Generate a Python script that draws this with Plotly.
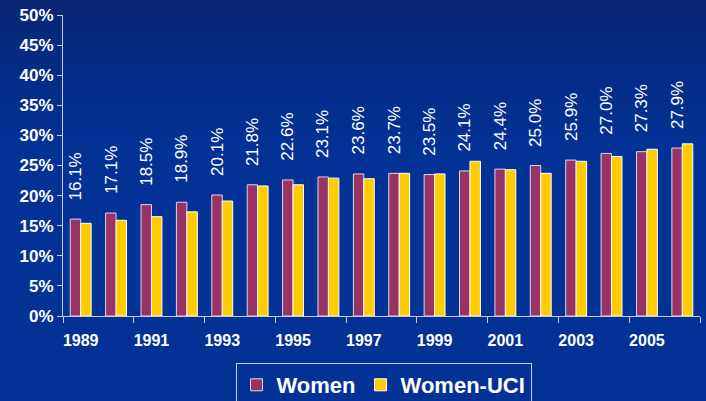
import base64, struct, zlib
import plotly.graph_objects as go

years = list(range(1989, 2007))
women = [16.1, 17.1, 18.5, 18.9, 20.1, 21.8, 22.6, 23.1, 23.6, 23.7, 23.5, 24.1, 24.4, 25.0, 25.9, 27.0, 27.3, 27.9]
women_uci = [15.4, 15.9, 16.5, 17.3, 19.1, 21.6, 21.8, 22.9, 22.8, 23.7, 23.6, 25.7, 24.3, 23.7, 25.7, 26.5, 27.7, 28.6]
tick_years = [1989, 1991, 1993, 1995, 1997, 1999, 2001, 2003, 2005]

W, H = 706, 401
ML, MR, MT, MB = 63, 6, 15, 85
PW, PH = W - ML - MR, H - MT - MB

# background gradient as a tiny PNG
def make_png(rows, w, h):
    raw = b"".join(b"\x00" + bytes(r) for r in rows)
    def chunk(t, d):
        c = struct.pack(">I", len(d)) + t + d
        return c + struct.pack(">I", zlib.crc32(t + d) & 0xffffffff)
    return (b"\x89PNG\r\n\x1a\n" + chunk(b"IHDR", struct.pack(">IIBBBBB", w, h, 8, 2, 0, 0, 0))
            + chunk(b"IDAT", zlib.compress(raw)) + chunk(b"IEND", b""))

gh = 100
rows = []
top = (10, 38, 118)
mid = (2, 50, 150)
for i in range(gh):
    t = min(1.0, i / 35.0)
    c = tuple(int(top[k] + (mid[k] - top[k]) * t) for k in range(3))
    rows.append(list(c) * 4)
bg = "data:image/png;base64," + base64.b64encode(make_png(rows, 4, gh)).decode()

FONT = "Liberation Sans, Arial, sans-serif"

fig = go.Figure()
fig.add_bar(x=years, y=women, name="Women", marker=dict(color="#993366", line=dict(color="#d8d8e8", width=1)))
fig.add_bar(x=years, y=women_uci, name="Women-UCI", marker=dict(color="#FFCC00", line=dict(color="#ffffff", width=1)))

for yr, v in zip(years, women):
    fig.add_annotation(x=yr, y=v, text=f"{v:.1f}%", showarrow=False, textangle=-90,
                       xshift=-5.3, yshift=17, yanchor="bottom", xanchor="center",
                       font=dict(family=FONT, size=17, color="white"))

fig.add_layout_image(source=bg, xref="paper", yref="paper",
                     x=-ML / PW, y=1 + MT / PH, sizex=W / PW, sizey=H / PH,
                     xanchor="left", yanchor="top", sizing="stretch", layer="below")

fig.update_layout(
    width=W, height=H,
    margin=dict(l=ML, r=MR, t=MT, b=MB, autoexpand=False),
    paper_bgcolor="#023296",
    plot_bgcolor="rgba(0,0,0,0)",
    barmode="group", bargap=0.41, bargroupgap=0,
    font=dict(family=FONT, color="white"),
    showlegend=True,
    legend=dict(orientation="h", xref="container", yref="container",
                x=383.5 / W, xanchor="center", y=1 - 363 / H, yanchor="top",
                bgcolor="rgba(0,0,0,0)", bordercolor="#c8cce0", borderwidth=1,
                font=dict(family=FONT, size=22, color="white", weight="bold"),
                itemwidth=30, traceorder="normal"),
    xaxis=dict(range=[1988.5, 2006.5], tickvals=tick_years, ticktext=[str(y) for y in tick_years],
               ticks="", showgrid=False, zeroline=False, ticklabelstandoff=10,
               showline=True, linecolor="#c8cce0", linewidth=1,
               tickfont=dict(family=FONT, size=16, color="white", weight="bold"),
               minor=dict(tickvals=[1988.5 + 2 * i for i in range(10)], ticks="outside",
                          ticklen=6, tickcolor="#c8cce0", tickwidth=1, showgrid=False)),
    yaxis=dict(range=[0, 50], dtick=5, ticksuffix="%", showgrid=False, zeroline=False,
               showline=True, linecolor="#c8cce0", linewidth=1,
               ticks="outside", ticklen=5, tickcolor="#c8cce0",
               tickfont=dict(family=FONT, size=17, color="white", weight="bold")),
)

fig.write_html("out.html", config={"displayModeBar": False},
               post_script="document.body.style.margin='0';document.body.style.overflow='hidden';")
